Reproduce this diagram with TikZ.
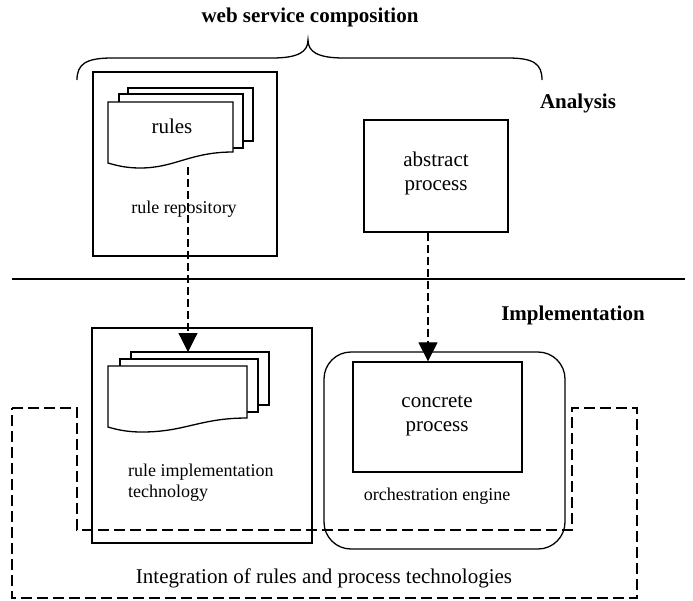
\documentclass[tikz,border=0pt]{standalone}
\usepackage{fontspec}
\setmainfont{Liberation Serif}
\usetikzlibrary{arrows.meta}
\begin{document}
\begin{tikzpicture}[x=1pt,y=-1pt,
  box/.style={draw,line width=1.3pt,inner sep=0pt},
  doc/.style={draw,line width=1.3pt,fill=white},
  big/.style={font=\fontsize{21}{24}\selectfont,inner sep=0pt,anchor=base},
  small/.style={font=\fontsize{18}{22}\selectfont,inner sep=0pt,anchor=base},
  smallw/.style={font=\fontsize{18}{22}\selectfont,inner sep=0pt,anchor=base west},
  boldtxt/.style={font=\fontsize{21}{24}\selectfont\bfseries,inner sep=0pt,anchor=base},
  flow/.style={line width=1.2pt,dash pattern=on 8pt off 4pt,-{Triangle[length=19pt,width=19pt]}},
  integ/.style={line width=1.3pt,dash pattern=on 11pt off 5pt}]
\useasboundingbox (0,0) rectangle (693,600);

% title and brace
\node[boldtxt] (title) at (310,22) {web service composition};
\draw[line width=1.3pt] (77,80) .. controls (77,64) and (86,58) .. (112,58) -- (272,58)
  .. controls (298,58) and (308,52) .. (308,40)
  .. controls (308,52) and (318,58) .. (344,58) -- (508,58)
  .. controls (534,58) and (542,64) .. (542,80);

% layer labels and separator
\node[boldtxt] (analysis) at (578,108) {Analysis};
\draw[line width=1.3pt] (12,279) -- (685,279);
\node[boldtxt] (impl) at (573,320) {Implementation};

% rule repository
\node[box,minimum width=184pt,minimum height=184pt] (repo) at (185,164) {};
\draw[doc] (128,88) rectangle (253,141);
\draw[doc] (119,94) rectangle (243,148);
\draw[doc] (108,102) -- (233,102) -- (233,152) .. controls (190,152) and (175,168) .. (140,168)
  .. controls (125,168) and (115,165) .. (108,163) -- cycle;
\node[big] (rulestxt) at (172,133) {rules};
\node[small] (repotxt) at (184,213) {rule repository};
\coordinate (rulesbot) at (188,167);

% abstract process
\node[box,minimum width=144pt,minimum height=112pt] (abs) at (436,176) {};
\node[big] (abs1) at (436,166) {abstract};
\node[big] (abs2) at (436,190) {process};

% integration dashed outline
\draw[integ] (12,408) -- (77,408) -- (77,530) -- (572,530) -- (572,408) -- (637,408)
  -- (637,598) -- (12,598) -- cycle;

% rule implementation technology
\node[box,minimum width=220pt,minimum height=215pt] (rimpl) at (202,435.5) {};
\draw[doc] (131,352) rectangle (269,405);
\draw[doc] (120,359) rectangle (258,412);
\draw[doc] (108,366) -- (247,366) -- (247,418) .. controls (200,418) and (185,432) .. (142,432)
  .. controls (125,432) and (115,429) .. (108,427) -- cycle;
\coordinate (impltop) at (188,352);
\node[smallw] (rimpl1) at (128,476) {rule implementation};
\node[smallw] (rimpl2) at (128,497) {technology};

% orchestration engine
\node[box,rounded corners=27pt,minimum width=241pt,minimum height=197pt] (orch) at (444.5,450.5) {};
\node[box,minimum width=169pt,minimum height=110pt] (conc) at (437.5,417) {};
\node[big] (conc1) at (437,407) {concrete};
\node[big] (conc2) at (437,431) {process};
\node[small] (orchtxt) at (437,500) {orchestration engine};

\node[big] (integtxt) at (324,583) {Integration of rules and process technologies};

% connectors
\coordinate (ax) at (428,0);
\draw[flow] (rulesbot) -- (impltop);
\draw[flow] (abs.south -| ax) -- (conc.north -| ax);
\end{tikzpicture}
\end{document}
